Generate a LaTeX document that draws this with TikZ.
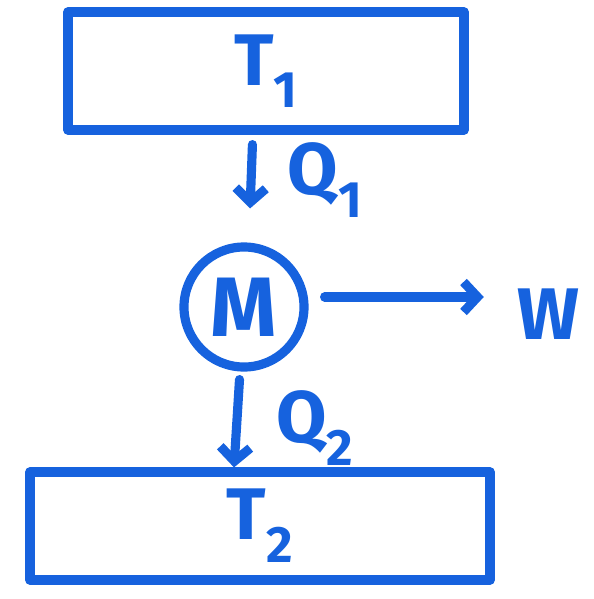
\documentclass[tikz,border=0pt]{standalone}
\usepackage{fontspec}
\setmainfont{Fira Sans}
\usetikzlibrary{arrows.meta}
\definecolor{pen}{RGB}{22,98,222}

\begin{document}
\begin{tikzpicture}[x=0.025cm, y=-0.025cm, color=pen,
    line width=6.5pt, line cap=round, line join=round,
    reservoir/.style={draw, minimum width=9.9cm, minimum height=2.95cm, inner sep=0pt},
    label/.style={font=\fontsize{52}{52}\selectfont\bfseries},
    flow/.style={-{Straight Barb[length=0.35cm, width=0.75cm, line width=6.5pt]}}]
  \useasboundingbox (0,0) rectangle (593,599);
  % Reservoirs and engine
  \node[reservoir, label] (hot) at (266,71) {T\textsubscript{1}};
  \node[reservoir, label, minimum width=11.5cm, minimum height=2.7cm] (cold) at (260,526) {T\textsubscript{2}};
  \node[draw, circle, minimum size=3cm, inner sep=0pt, label, font=\fontsize{60}{60}\selectfont\bfseries] (engine) at (244,307) {M};
  \node[label] (work) at (548,314) {W};
  % Heat and work flows
  \draw[flow, shorten <=0.25cm, shorten >=0.85cm] ([xshift=0.22cm]hot.south -| engine.north) -- ([xshift=0.12cm]engine.north);
  \draw[flow, shorten <=0.4cm, shorten >=0.6cm] ([yshift=0.25cm]engine.east) -- ([yshift=0.25cm]engine.east -| work.west);
  \draw[flow, shorten <=0.2cm] ([xshift=-0.1cm]engine.south) -- ([xshift=-0.25cm]engine.south |- cold.north);
  \node[label] (q1) at (325,180) {Q\textsubscript{1}};
  \node[label] (q2) at (315,428) {Q\textsubscript{2}};
\end{tikzpicture}
\end{document}
